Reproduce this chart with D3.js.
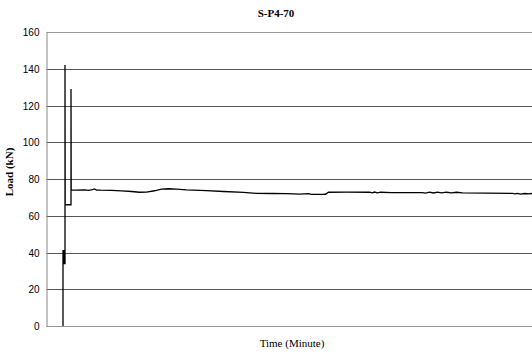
<!DOCTYPE html>
<html>
<head>
    <title></title>
    <meta charset="utf-8" />
    <script src="https://d3js.org/d3.v7.min.js"></script>
    <style>
        body { margin: 0; background: #fff; }
        .tick text { font-family: Arial, "Liberation Sans", sans-serif; font-size: 10px; fill: #000; }
        .ttl { font-family: "Times New Roman", "Liberation Serif", serif; fill: #000; }
    </style>
</head>
<body>
    <script>
        // data (time in arbitrary minute units, load in kN)
        var time = [16.5, 16.5, 17.5, 17.5, 18.5, 18.5, 18.7, 24.5, 24.5, 24.7,
            30, 38, 42, 46, 48, 50, 54, 65, 75, 85, 93, 100, 108, 115, 122, 130, 140,
            160, 177, 197, 210, 225, 240, 253, 262, 265, 276, 279, 282, 300, 323, 326,
            328, 331, 334, 345, 376, 379, 383, 387, 391, 395, 400, 405, 410, 416, 440,
            466, 468, 471, 474, 478, 482, 485.5];
        var load = [0, 41, 41, 34, 34, 142, 66, 66, 129, 74,
            73.9, 74.1, 73.8, 74.2, 74.6, 74.0, 73.9, 73.8, 73.5, 73.2, 72.8, 72.9, 73.6, 74.5, 74.7, 74.5, 74.1,
            73.7, 73.2, 72.7, 72.2, 72.1, 72.0, 71.8, 72.0, 71.6, 71.6, 71.7, 72.8, 72.9, 72.8, 72.5,
            72.9, 72.5, 72.8, 72.6, 72.6, 72.3, 72.8, 72.4, 72.8, 72.4, 72.8, 72.5, 72.8, 72.5, 72.3,
            72.2, 71.9, 72.2, 71.8, 72.1, 71.9, 72.1];
        var yTicks = [0, 20, 40, 60, 80, 100, 120, 140, 160];

        var width = 532,
            height = 354,
            plotLeft = 46.5,
            plotTop = 32,
            plotBottom = 326;

        var svg = d3.select("body")
            .append("svg")
            .attr("width", width)
            .attr("height", height);

        var x = d3.scaleLinear().domain([0, 485.5]).range([plotLeft, width]);
        var y = d3.scaleLinear().domain([0, 160]).range([plotBottom, plotTop]);

        // gridlines
        svg.append("g")
            .selectAll("line")
            .data(yTicks)
            .enter().append("line")
            .attr("x1", plotLeft)
            .attr("x2", width)
            .attr("y1", function (d) { return Math.round(y(d)) + 0.5; })
            .attr("y2", function (d) { return Math.round(y(d)) + 0.5; })
            .attr("stroke", function (d) { return (d == 0 || d == 160) ? "#999" : "#555"; })
            .attr("stroke-width", 1);

        // y axis
        var yAxis = d3.axisLeft(y).tickValues(yTicks).tickSize(0).tickPadding(7);
        var gy = svg.append("g")
            .attr("transform", "translate(" + plotLeft + ",0)")
            .call(yAxis);
        gy.select(".domain").attr("stroke", "#888");
        gy.selectAll(".tick text").attr("dy", "0.35em");

        // series
        var line = d3.line()
            .x(function (d, i) { return x(time[i]); })
            .y(function (d) { return y(d); });

        svg.append("path")
            .datum(load)
            .attr("d", line)
            .attr("fill", "none")
            .attr("stroke", "#000")
            .attr("stroke-width", 1.3);

        // titles
        svg.append("text")
            .attr("class", "ttl")
            .attr("x", 276)
            .attr("y", 17)
            .attr("text-anchor", "middle")
            .attr("font-size", 11)
            .attr("font-weight", "bold")
            .text("S-P4-70");

        svg.append("text")
            .attr("class", "ttl")
            .attr("x", 292)
            .attr("y", 347)
            .attr("text-anchor", "middle")
            .attr("font-size", 11)
            .text("Time (Minute)");

        svg.append("text")
            .attr("class", "ttl")
            .attr("transform", "translate(13,172) rotate(-90)")
            .attr("text-anchor", "middle")
            .attr("font-size", 11)
            .attr("font-weight", "bold")
            .text("Load (kN)");
    </script>
</body>
</html>
